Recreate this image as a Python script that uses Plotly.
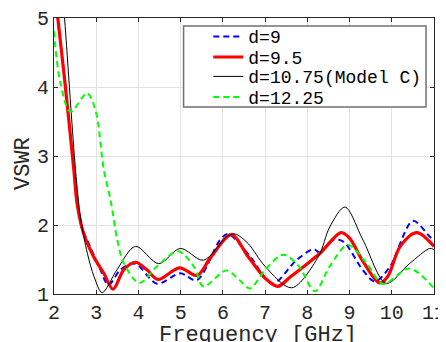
import plotly.graph_objects as go

# ---- data ----
f_d9 = [2.0, 2.09, 2.27, 2.47, 2.63, 2.86, 3.1, 3.29, 3.57, 3.92, 4.44, 4.99, 5.38, 5.93, 6.12,
        6.65, 7.17, 7.74, 8.15, 8.3, 8.6, 8.85, 9.31, 9.6, 9.96, 10.5, 10.9, 11.0]
v_d9 = [5.5, 5.0, 4.0, 2.8, 2.03, 1.68, 1.35, 1.13, 1.35, 1.44, 1.15, 1.30, 1.20, 1.78, 1.87,
        1.54, 1.15, 1.49, 1.65, 1.60, 1.78, 1.76, 1.35, 1.18, 1.40, 2.06, 1.83, 1.78]

f_d95 = [2.0, 2.09, 2.27, 2.47, 2.55, 2.7, 2.94, 3.18, 3.40, 3.65, 3.93, 4.2, 4.46, 4.97, 5.39,
         5.7, 6.2, 6.6, 7.0, 7.3, 7.6, 8.0, 8.3, 8.8, 9.0, 9.3, 9.71, 9.9, 10.2, 10.59, 11.0]
v_d95 = [5.5, 5.0, 4.0, 2.8, 2.3, 1.88, 1.54, 1.30, 1.07, 1.35, 1.46, 1.35, 1.21, 1.38, 1.27,
         1.52, 1.86, 1.54, 1.23, 1.11, 1.25, 1.44, 1.59, 1.89, 1.81, 1.49, 1.16, 1.25, 1.69, 1.89, 1.69]

f_d1075 = [2.0, 2.25, 2.51, 2.63, 2.79, 2.95, 3.14, 3.49, 3.93, 4.48, 4.99, 5.54, 6.09, 6.29,
           6.6, 7.0, 7.63, 8.26, 8.53, 8.89, 9.32, 9.87, 10.42, 10.9, 11.0]
v_d1075 = [7.0, 5.0, 2.8, 2.1, 1.59, 1.25, 1.02, 1.35, 1.69, 1.44, 1.66, 1.49, 1.83, 1.87,
           1.73, 1.40, 1.09, 1.54, 1.97, 2.26, 1.78, 1.155, 1.44, 1.66, 1.64]

f_d1225 = [2.0, 2.15, 2.39, 2.78, 2.98, 3.18, 3.34, 3.5, 3.65, 4.02, 4.44, 4.94, 5.31, 5.54,
           6.08, 6.4, 6.64, 7.0, 7.43, 7.8, 8.18, 8.53, 8.96, 9.4, 9.79, 10.42, 11.0]
v_d1225 = [4.81, 4.06, 3.64, 3.91, 3.67, 2.8, 2.36, 1.78, 1.45, 1.16, 1.40, 1.62, 1.40, 1.11,
           1.34, 1.20, 1.08, 1.35, 1.57, 1.40, 1.04, 1.40, 1.71, 1.45, 1.145, 1.37, 1.08]

names = ["d=9", "d=9.5", "d=10.75(Model C)", "d=12.25"]
x_ticks = [2, 3, 4, 5, 6, 7, 8, 9, 10, 11]
y_ticks = [1, 2, 3, 4, 5]

FONT = "Liberation Mono, Courier New, monospace"
AX = "#262626"

fig = go.Figure()
series = [
    (f_d9, v_d9, dict(color="#0000ff", width=2, dash="6px,4px"), "legend"),
    (f_d95, v_d95, dict(color="#ff0000", width=3.2), "legend2"),
    (f_d1075, v_d1075, dict(color="#000000", width=1), "legend3"),
    (f_d1225, v_d1225, dict(color="#00ff00", width=2, dash="6px,4px"), "legend4"),
]
for (fx, vy, ln, lg), nm in zip(series, names):
    ln = dict(ln, shape="spline", smoothing=0.9)
    fig.add_trace(go.Scatter(x=fx, y=vy, mode="lines", name=nm, line=ln, legend=lg))

# legend box
fig.add_shape(type="rect", xref="paper", yref="paper", x0=0.341, x1=0.979, y0=0.6775, y1=0.971,
              line=dict(color="#707070", width=1.5), fillcolor="white", layer="above")

leg_common = dict(xref="paper", yref="paper", xanchor="left", yanchor="middle",
                  bgcolor="rgba(0,0,0,0)", borderwidth=0,
                  font=dict(family=FONT, size=18, color="#000000"))
lx = 0.406
fig.update_layout(
    legend=dict(leg_common, x=lx, y=0.932),
    legend2=dict(leg_common, x=lx, y=0.8576),
    legend3=dict(leg_common, x=lx, y=0.7873),
    legend4=dict(leg_common, x=lx, y=0.7127),
)

axis_common = dict(showline=True, linecolor=AX, linewidth=1, mirror="ticks", ticks="inside",
                   ticklen=4, tickcolor=AX, showgrid=True, gridcolor="#e3e3e3", gridwidth=1,
                   zeroline=False, automargin=False, ticklabeloverflow="allow",
                   tickfont=dict(family=FONT, size=20, color=AX))
fig.update_xaxes(axis_common, range=[2, 11], tickvals=x_ticks, ticktext=[str(t) for t in x_ticks])
fig.update_yaxes(axis_common, range=[1, 5], tickvals=y_ticks, ticktext=[str(t) for t in y_ticks])

fig.add_annotation(text="Frequency [GHz]", xref="paper", yref="paper", x=0.536, y=-0.152,
                   xanchor="center", yanchor="middle", showarrow=False,
                   font=dict(family=FONT, size=22, color=AX))
fig.add_annotation(text="VSWR", xref="paper", yref="paper", x=-0.0802, y=0.4728,
                   xanchor="center", yanchor="middle", showarrow=False, textangle=-90,
                   font=dict(family=FONT, size=22, color=AX))

# the page body adds an 8px offset; size the figure to fill the remaining window
fig.update_layout(width=438, height=334,
                  margin=dict(l=45.5, r=12, t=10, b=48, autoexpand=False),
                  plot_bgcolor="white", paper_bgcolor="white", showlegend=True)

fig.write_html("out.html")
